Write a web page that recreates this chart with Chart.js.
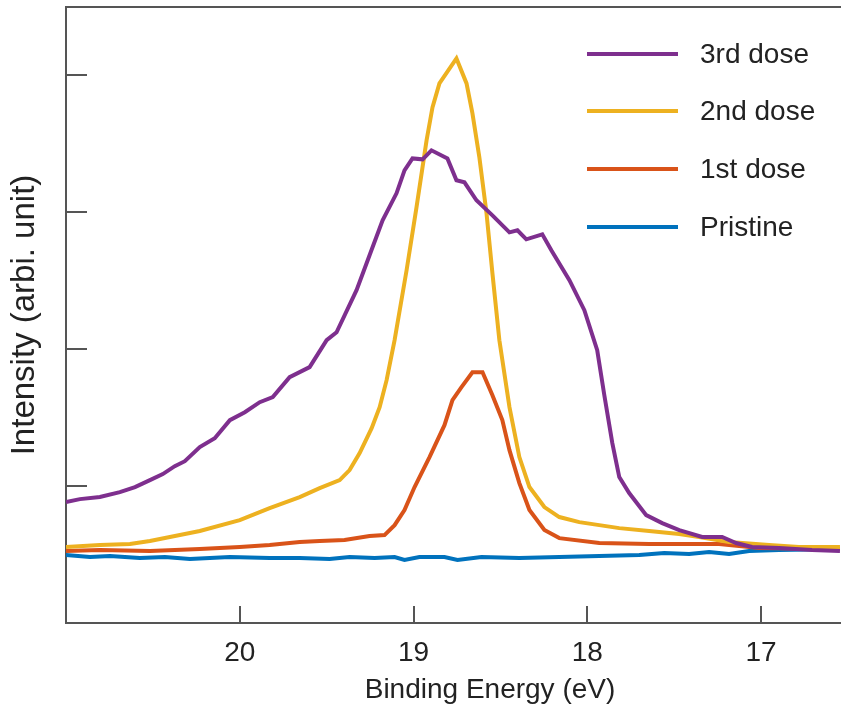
<!DOCTYPE html>
<html>
<head>
<meta charset="utf-8">
<script src="https://cdn.jsdelivr.net/npm/chart.js@4/dist/chart.umd.min.js"></script>
<style>
  html, body { margin: 0; padding: 0; background: #fff; }
  #wrap { width: 841px; height: 713px; }
</style>
</head>
<body>
<div id="wrap"><canvas id="grafico"></canvas></div>
<script>
// eixo x: energia de ligação (eV), eixo y: intensidade (unidade arbitrária)
var xTicks = [20, 19, 18, 17];
var yTicks = [1, 2, 3, 4];

var energia3 = [21.000, 20.920, 20.805, 20.690, 20.603, 20.517, 20.443, 20.374, 20.316, 20.230, 20.144, 20.057, 19.971, 19.885, 19.810, 19.713, 19.598, 19.500, 19.443, 19.328, 19.253, 19.178, 19.098, 19.052, 19.006, 18.948, 18.897, 18.805, 18.753, 18.707, 18.638, 18.546, 18.448, 18.402, 18.351, 18.259, 18.207, 18.103, 18.017, 17.943, 17.902, 17.856, 17.816, 17.759, 17.661, 17.569, 17.471, 17.339, 17.224, 17.144, 17.052, 16.897, 16.707, 16.546];
var dose3 = [0.883, 0.905, 0.920, 0.956, 0.993, 1.044, 1.088, 1.146, 1.182, 1.285, 1.350, 1.482, 1.540, 1.613, 1.650, 1.796, 1.869, 2.066, 2.124, 2.431, 2.686, 2.942, 3.139, 3.307, 3.394, 3.387, 3.453, 3.394, 3.234, 3.219, 3.088, 2.978, 2.854, 2.869, 2.803, 2.839, 2.723, 2.504, 2.285, 1.993, 1.664, 1.314, 1.066, 0.949, 0.788, 0.730, 0.679, 0.628, 0.628, 0.584, 0.555, 0.547, 0.533, 0.526];

var energia2 = [21.000, 20.805, 20.632, 20.517, 20.402, 20.230, 20.000, 19.828, 19.655, 19.540, 19.425, 19.368, 19.310, 19.241, 19.195, 19.155, 19.109, 19.040, 18.983, 18.925, 18.891, 18.851, 18.753, 18.695, 18.661, 18.621, 18.580, 18.546, 18.506, 18.448, 18.391, 18.333, 18.247, 18.161, 18.046, 17.931, 17.816, 17.644, 17.471, 17.356, 17.184, 16.954, 16.782, 16.546];
var dose2 = [0.555, 0.569, 0.577, 0.599, 0.628, 0.672, 0.752, 0.839, 0.920, 0.985, 1.044, 1.117, 1.241, 1.423, 1.577, 1.774, 2.066, 2.577, 3.036, 3.526, 3.766, 3.942, 4.124, 3.942, 3.723, 3.401, 2.993, 2.555, 2.066, 1.577, 1.212, 0.993, 0.847, 0.774, 0.737, 0.715, 0.693, 0.672, 0.650, 0.628, 0.591, 0.569, 0.555, 0.555];

var energia1 = [21.000, 20.805, 20.517, 20.230, 20.000, 19.828, 19.655, 19.540, 19.397, 19.253, 19.167, 19.109, 19.052, 18.994, 18.908, 18.822, 18.776, 18.724, 18.661, 18.603, 18.546, 18.489, 18.448, 18.391, 18.333, 18.247, 18.161, 17.931, 17.644, 17.241, 17.011, 16.546];
var dose1 = [0.526, 0.533, 0.526, 0.540, 0.555, 0.569, 0.591, 0.599, 0.606, 0.635, 0.642, 0.715, 0.825, 0.993, 1.212, 1.445, 1.628, 1.723, 1.832, 1.832, 1.664, 1.482, 1.263, 1.022, 0.825, 0.679, 0.620, 0.584, 0.577, 0.577, 0.547, 0.540];

var energiaP = [21.000, 20.862, 20.747, 20.575, 20.431, 20.287, 20.057, 19.828, 19.655, 19.483, 19.368, 19.224, 19.109, 19.052, 18.966, 18.822, 18.747, 18.609, 18.391, 18.161, 17.931, 17.701, 17.557, 17.414, 17.299, 17.184, 17.069, 16.897, 16.546];
var pristine = [0.496, 0.482, 0.489, 0.474, 0.482, 0.467, 0.482, 0.474, 0.474, 0.467, 0.482, 0.474, 0.482, 0.460, 0.482, 0.482, 0.460, 0.482, 0.474, 0.482, 0.489, 0.496, 0.511, 0.504, 0.518, 0.504, 0.526, 0.533, 0.540];

var nomes = ['3rd dose', '2nd dose', '1st dose', 'Pristine'];
var cores = ['#7E2F8E', '#EDB120', '#D95319', '#0072BD'];
var tituloX = 'Binding Energy (eV)';
var tituloY = 'Intensity (arbi. unit)';

var fonte = '"Liberation Sans", Arial, Helvetica, sans-serif';
var corEixo = '#555555';
var corTexto = '#222222';

function pontos(xs, ys){
    var lista = [];
    for (var i = 0; i < xs.length; i++) lista.push({x: xs[i], y: ys[i]});
    return lista;
}

function serie(i, xs, ys){
    return {
        label: nomes[i],
        data: pontos(xs, ys),
        borderColor: cores[i],
        backgroundColor: cores[i],
        borderWidth: 4,
        pointRadius: 0,
        tension: 0,
        fill: false
    };
}

// moldura de cima + ticks para dentro + legenda dentro do gráfico + título do eixo x
var moldura = {
    id: 'moldura',
    afterDraw: function(chart){
        var ctx = chart.ctx;
        var area = chart.chartArea;
        var sx = chart.scales.x;
        var sy = chart.scales.y;
        ctx.save();
        ctx.strokeStyle = corEixo;
        ctx.lineWidth = 2;
        ctx.beginPath();
        ctx.moveTo(area.left, area.top);
        ctx.lineTo(area.right, area.top);
        xTicks.forEach(function(v){
            var px = Math.round(sx.getPixelForValue(v));
            ctx.moveTo(px, area.bottom);
            ctx.lineTo(px, area.bottom - 17);
        });
        yTicks.forEach(function(v){
            var py = Math.round(sy.getPixelForValue(v));
            ctx.moveTo(area.left, py);
            ctx.lineTo(area.left + 21, py);
        });
        ctx.stroke();

        var yLeg = [54, 111, 169, 227];
        ctx.font = '28px ' + fonte;
        ctx.textBaseline = 'middle';
        ctx.textAlign = 'left';
        chart.data.datasets.forEach(function(ds, i){
            ctx.strokeStyle = ds.borderColor;
            ctx.lineWidth = 4;
            ctx.beginPath();
            ctx.moveTo(587, yLeg[i]);
            ctx.lineTo(678, yLeg[i]);
            ctx.stroke();
            ctx.fillStyle = corTexto;
            ctx.fillText(ds.label, 700, yLeg[i] + 1);
        });

        ctx.textAlign = 'center';
        ctx.fillText(tituloX, 490, 690);
        ctx.restore();
    }
};

var config = {
    type: 'line',
    data: {
        datasets: [
            serie(0, energia3, dose3),
            serie(1, energia2, dose2),
            serie(2, energia1, dose1),
            serie(3, energiaP, pristine)
        ]
    },
    options: {
        responsive: true,
        maintainAspectRatio: false,
        animation: false,
        layout: { padding: { top: 7, right: 0, left: 0, bottom: 0 } },
        plugins: {
            legend: { display: false },
            tooltip: { enabled: false }
        },
        scales: {
            x: {
                type: 'linear',
                reverse: true,
                min: 16.54,
                max: 21,
                afterBuildTicks: function(scale){
                    scale.ticks = xTicks.map(function(v){ return {value: v}; });
                },
                afterFit: function(scale){ scale.height = 90; },
                grid: { display: true, drawOnChartArea: false, drawTicks: false },
                border: { display: true, color: corEixo, width: 2 },
                ticks: {
                    color: corTexto,
                    padding: 13,
                    maxRotation: 0,
                    font: { family: fonte, size: 28 }
                },
                title: { display: false }
            },
            y: {
                type: 'linear',
                min: 0,
                max: 4.5,
                afterBuildTicks: function(scale){
                    scale.ticks = yTicks.map(function(v){ return {value: v}; });
                },
                afterFit: function(scale){ scale.width = 66; },
                grid: { display: true, drawOnChartArea: false, drawTicks: false },
                border: { display: true, color: corEixo, width: 2 },
                ticks: { display: false },
                title: {
                    display: true,
                    text: tituloY,
                    color: corTexto,
                    font: { family: fonte, size: 33 },
                    padding: { top: 5, bottom: 0 }
                }
            }
        }
    },
    plugins: [moldura]
};

new Chart(document.getElementById('grafico'), config);
</script>
</body>
</html>
